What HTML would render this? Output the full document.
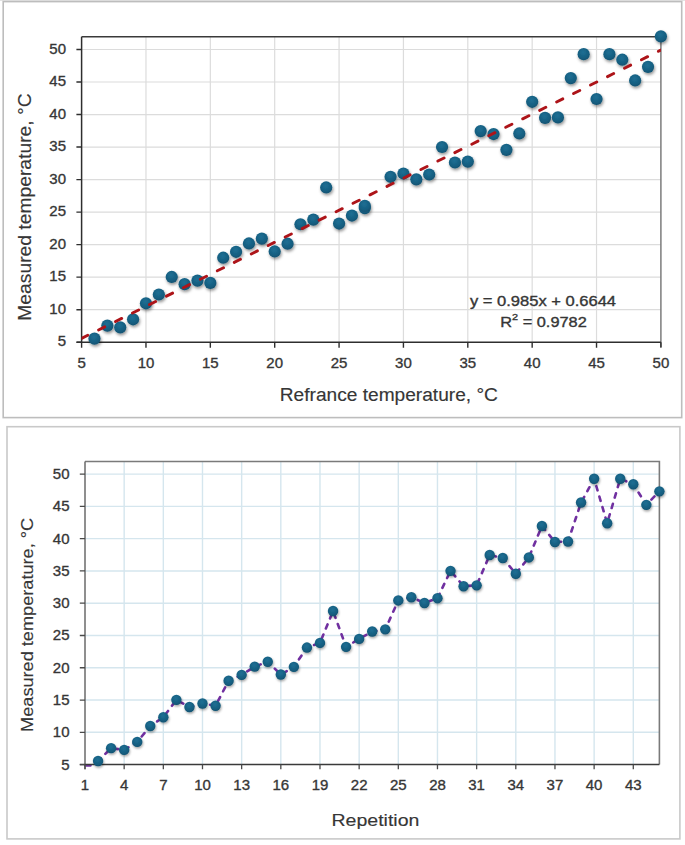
<!DOCTYPE html>
<html><head><meta charset="utf-8"><title>Charts</title>
<style>
html,body{margin:0;padding:0;background:#fff;}
body{width:685px;height:845px;overflow:hidden;position:relative;}
svg{position:absolute;left:0;top:0;display:block;}
text{font-family:"Liberation Sans", sans-serif;fill:#363636;stroke:#363636;stroke-width:0.35px;}
.tl{font-size:15px;}
.at1{font-size:17.9px;stroke-width:0.15px;}
.at2{font-size:17.3px;stroke-width:0.15px;}
.eq{font-size:14.2px;}
.sup{font-size:9.5px;}
</style></head>
<body>
<svg width="685" height="845" viewBox="0 0 685 845">
<defs>
<radialGradient id="mk" cx="0.45" cy="0.35" r="0.7">
<stop offset="0" stop-color="#1f6f94"/>
<stop offset="0.65" stop-color="#155e80"/>
<stop offset="1" stop-color="#0f4f6d"/>
</radialGradient>
<filter id="sh" x="-50%" y="-50%" width="200%" height="200%">
<feDropShadow dx="0.9" dy="1.9" stdDeviation="1.4" flood-color="#000" flood-opacity="0.42"/>
</filter>
<filter id="sh2" x="-50%" y="-50%" width="200%" height="200%">
<feDropShadow dx="0.7" dy="1.5" stdDeviation="1.1" flood-color="#000" flood-opacity="0.36"/>
</filter>
</defs>
<rect x="0" y="0" width="685" height="1" fill="#e4e4e4"/>
<rect x="3.2" y="1.6" width="678.5" height="416" fill="#fff" stroke="#bdbdbd" stroke-width="1.6"/>
<rect x="7.0" y="426.7" width="672.9" height="412.2" fill="#fff" stroke="#c9c9c9" stroke-width="1.6"/>
<path d="M81.6 309.68H660.9M81.6 277.16H660.9M81.6 244.63H660.9M81.6 212.11H660.9M81.6 179.59H660.9M81.6 147.07H660.9M81.6 114.54H660.9M81.6 82.02H660.9M81.6 49.5H660.9M145.97 36.7V342.2M210.33 36.7V342.2M274.7 36.7V342.2M339.07 36.7V342.2M403.43 36.7V342.2M467.8 36.7V342.2M532.17 36.7V342.2M596.53 36.7V342.2" stroke="#dcdcdc" stroke-width="1.2" fill="none"/>
<path d="M81.6 36.7H660.9" stroke="#3a3a3a" stroke-width="1.5" fill="none"/>
<path d="M660.9 36.7V347" stroke="#7c7c7c" stroke-width="1.5" fill="none"/>
<path d="M81.6 36.7V342.2" stroke="#2e2e2e" stroke-width="1.5" fill="none"/>
<path d="M76.6 342.2H660.9" stroke="#2e2e2e" stroke-width="1.6" fill="none"/>
<path d="M81.6 342.2V347.8M145.97 342.2V347.8M210.33 342.2V347.8M274.7 342.2V347.8M339.07 342.2V347.8M403.43 342.2V347.8M467.8 342.2V347.8M532.17 342.2V347.8M596.53 342.2V347.8M660.9 342.2V347.8M76.4 342.2H81.6M76.4 309.68H81.6M76.4 277.16H81.6M76.4 244.63H81.6M76.4 212.11H81.6M76.4 179.59H81.6M76.4 147.07H81.6M76.4 114.54H81.6M76.4 82.02H81.6M76.4 49.5H81.6" stroke="#2e2e2e" stroke-width="1.4" fill="none"/>
<g fill="url(#mk)" filter="url(#sh)"><circle cx="94.47" cy="338.62" r="6.1"/><circle cx="107.35" cy="325.61" r="6.1"/><circle cx="120.22" cy="327.37" r="6.1"/><circle cx="133.09" cy="319.3" r="6.1"/><circle cx="145.97" cy="303.3" r="6.1"/><circle cx="158.84" cy="294.52" r="6.1"/><circle cx="171.71" cy="276.96" r="6.1"/><circle cx="184.59" cy="284.18" r="6.1"/><circle cx="197.46" cy="280.6" r="6.1"/><circle cx="210.33" cy="282.88" r="6.1"/><circle cx="223.21" cy="257.71" r="6.1"/><circle cx="236.08" cy="251.79" r="6.1"/><circle cx="248.95" cy="243.46" r="6.1"/><circle cx="261.83" cy="238.58" r="6.1"/><circle cx="274.7" cy="251.46" r="6.1"/><circle cx="287.57" cy="243.72" r="6.1"/><circle cx="300.45" cy="224.27" r="6.1"/><circle cx="313.32" cy="219.59" r="6.1"/><circle cx="326.19" cy="187.46" r="6.1"/><circle cx="339.07" cy="223.56" r="6.1"/><circle cx="351.94" cy="215.56" r="6.1"/><circle cx="364.81" cy="208.08" r="6.1"/><circle cx="364.81" cy="205.93" r="6.1"/><circle cx="390.56" cy="176.79" r="6.1"/><circle cx="403.43" cy="173.54" r="6.1"/><circle cx="416.31" cy="179.33" r="6.1"/><circle cx="429.18" cy="174.52" r="6.1"/><circle cx="442.05" cy="147" r="6.1"/><circle cx="454.93" cy="162.48" r="6.1"/><circle cx="467.8" cy="161.57" r="6.1"/><circle cx="480.67" cy="131.07" r="6.1"/><circle cx="493.55" cy="134.06" r="6.1"/><circle cx="506.42" cy="149.86" r="6.1"/><circle cx="519.29" cy="133.47" r="6.1"/><circle cx="532.17" cy="101.8" r="6.1"/><circle cx="545.04" cy="117.86" r="6.1"/><circle cx="557.91" cy="117.41" r="6.1"/><circle cx="570.79" cy="78.12" r="6.1"/><circle cx="583.66" cy="54.18" r="6.1"/><circle cx="596.53" cy="99" r="6.1"/><circle cx="609.41" cy="54.18" r="6.1"/><circle cx="622.28" cy="59.71" r="6.1"/><circle cx="635.15" cy="80.46" r="6.1"/><circle cx="648.03" cy="66.87" r="6.1"/><circle cx="660.9" cy="36.36" r="6.1"/></g>
<clipPath id="cp1"><rect x="81.6" y="35.7" width="579.3" height="306.5"/></clipPath>
<g clip-path="url(#cp1)"><path d="M81.6 338.37L660.9 50.06" stroke="#ad1419" stroke-width="2.9" stroke-linecap="round" stroke-dasharray="6.9 12.05" fill="none"/></g>
<text x="66" y="346.4" text-anchor="end" class="tl">5</text>
<text x="66" y="313.88" text-anchor="end" class="tl">10</text>
<text x="66" y="281.36" text-anchor="end" class="tl">15</text>
<text x="66" y="248.83" text-anchor="end" class="tl">20</text>
<text x="66" y="216.31" text-anchor="end" class="tl">25</text>
<text x="66" y="183.79" text-anchor="end" class="tl">30</text>
<text x="66" y="151.27" text-anchor="end" class="tl">35</text>
<text x="66" y="118.74" text-anchor="end" class="tl">40</text>
<text x="66" y="86.22" text-anchor="end" class="tl">45</text>
<text x="66" y="53.7" text-anchor="end" class="tl">50</text>
<text x="81.6" y="367.7" text-anchor="middle" class="tl">5</text>
<text x="145.97" y="367.7" text-anchor="middle" class="tl">10</text>
<text x="210.33" y="367.7" text-anchor="middle" class="tl">15</text>
<text x="274.7" y="367.7" text-anchor="middle" class="tl">20</text>
<text x="339.07" y="367.7" text-anchor="middle" class="tl">25</text>
<text x="403.43" y="367.7" text-anchor="middle" class="tl">30</text>
<text x="467.8" y="367.7" text-anchor="middle" class="tl">35</text>
<text x="532.17" y="367.7" text-anchor="middle" class="tl">40</text>
<text x="596.53" y="367.7" text-anchor="middle" class="tl">45</text>
<text x="660.9" y="367.7" text-anchor="middle" class="tl">50</text>
<text transform="translate(388.85 400.6) scale(1.069 1)" text-anchor="middle" class="at1">Refrance temperature, &#176;C</text>
<text transform="translate(30.7 207.05) rotate(-90) scale(1.077 1)" text-anchor="middle" class="at1">Measured temperature, &#176;C</text>
<text transform="translate(469.9 305.6) scale(1.165 1)" class="eq">y = 0.985x + 0.6644</text>
<text transform="translate(500.3 327.2) scale(1.15 1)" class="eq">R<tspan dy="-7.6" class="sup">2</tspan><tspan dy="7.6"> = 0.9782</tspan></text>
<path d="M85 732.32H659.4M85 700.04H659.4M85 667.77H659.4M85 635.49H659.4M85 603.21H659.4M85 570.93H659.4M85 538.66H659.4M85 506.38H659.4M85 474.1H659.4M124.16 461.5V764.6M163.33 461.5V764.6M202.49 461.5V764.6M241.65 461.5V764.6M280.82 461.5V764.6M319.98 461.5V764.6M359.15 461.5V764.6M398.31 461.5V764.6M437.47 461.5V764.6M476.64 461.5V764.6M515.8 461.5V764.6M554.96 461.5V764.6M594.13 461.5V764.6M633.29 461.5V764.6" stroke="#d5e6ee" stroke-width="1.4" fill="none"/>
<path d="M85.4 765.5H90.5" stroke="#7030a0" stroke-width="2.4" stroke-linecap="round" fill="none"/>
<path d="M98.05 761.05L111.11 748.14L124.16 749.88L137.22 741.88L150.27 726L163.33 717.28L176.38 699.85L189.44 707.02L202.49 703.47L215.55 705.73L228.6 680.74L241.65 674.87L254.71 666.6L267.76 661.76L280.82 674.55L293.87 666.86L306.93 647.56L319.98 642.91L333.04 611.02L346.09 646.85L359.15 638.91L372.2 631.49L385.25 629.36L398.31 600.44L411.36 597.21L424.42 602.95L437.47 598.18L450.53 570.87L463.58 586.23L476.64 585.33L489.69 555.05L502.75 558.02L515.8 573.71L528.85 557.44L541.91 526L554.96 541.95L568.02 541.5L581.07 502.5L594.13 478.75L607.18 523.23L620.24 478.75L633.29 484.24L646.35 504.83L659.4 491.34" stroke="#7030a0" stroke-width="2.6" stroke-linecap="round" stroke-dasharray="4.4 6.5" stroke-dashoffset="11.53" fill="none" stroke-linejoin="round"/>
<path d="M85 461.5H659.4V764.6" stroke="#7a7a7a" stroke-width="1.6" fill="none"/>
<path d="M85 461.5V769.2" stroke="#6a6a6a" stroke-width="1.5" fill="none"/>
<path d="M79.8 764.6H659.4" stroke="#3a3a3a" stroke-width="1.5" fill="none"/>
<path d="M85 764.6V769.2M124.16 764.6V769.2M163.33 764.6V769.2M202.49 764.6V769.2M241.65 764.6V769.2M280.82 764.6V769.2M319.98 764.6V769.2M359.15 764.6V769.2M398.31 764.6V769.2M437.47 764.6V769.2M476.64 764.6V769.2M515.8 764.6V769.2M554.96 764.6V769.2M594.13 764.6V769.2M633.29 764.6V769.2M79.8 764.6H85M79.8 732.32H85M79.8 700.04H85M79.8 667.77H85M79.8 635.49H85M79.8 603.21H85M79.8 570.93H85M79.8 538.66H85M79.8 506.38H85M79.8 474.1H85" stroke="#4a4a4a" stroke-width="1.3" fill="none"/>
<g fill="url(#mk)" filter="url(#sh2)"><circle cx="98.05" cy="761.05" r="5.2"/><circle cx="111.11" cy="748.14" r="5.2"/><circle cx="124.16" cy="749.88" r="5.2"/><circle cx="137.22" cy="741.88" r="5.2"/><circle cx="150.27" cy="726" r="5.2"/><circle cx="163.33" cy="717.28" r="5.2"/><circle cx="176.38" cy="699.85" r="5.2"/><circle cx="189.44" cy="707.02" r="5.2"/><circle cx="202.49" cy="703.47" r="5.2"/><circle cx="215.55" cy="705.73" r="5.2"/><circle cx="228.6" cy="680.74" r="5.2"/><circle cx="241.65" cy="674.87" r="5.2"/><circle cx="254.71" cy="666.6" r="5.2"/><circle cx="267.76" cy="661.76" r="5.2"/><circle cx="280.82" cy="674.55" r="5.2"/><circle cx="293.87" cy="666.86" r="5.2"/><circle cx="306.93" cy="647.56" r="5.2"/><circle cx="319.98" cy="642.91" r="5.2"/><circle cx="333.04" cy="611.02" r="5.2"/><circle cx="346.09" cy="646.85" r="5.2"/><circle cx="359.15" cy="638.91" r="5.2"/><circle cx="372.2" cy="631.49" r="5.2"/><circle cx="385.25" cy="629.36" r="5.2"/><circle cx="398.31" cy="600.44" r="5.2"/><circle cx="411.36" cy="597.21" r="5.2"/><circle cx="424.42" cy="602.95" r="5.2"/><circle cx="437.47" cy="598.18" r="5.2"/><circle cx="450.53" cy="570.87" r="5.2"/><circle cx="463.58" cy="586.23" r="5.2"/><circle cx="476.64" cy="585.33" r="5.2"/><circle cx="489.69" cy="555.05" r="5.2"/><circle cx="502.75" cy="558.02" r="5.2"/><circle cx="515.8" cy="573.71" r="5.2"/><circle cx="528.85" cy="557.44" r="5.2"/><circle cx="541.91" cy="526" r="5.2"/><circle cx="554.96" cy="541.95" r="5.2"/><circle cx="568.02" cy="541.5" r="5.2"/><circle cx="581.07" cy="502.5" r="5.2"/><circle cx="594.13" cy="478.75" r="5.2"/><circle cx="607.18" cy="523.23" r="5.2"/><circle cx="620.24" cy="478.75" r="5.2"/><circle cx="633.29" cy="484.24" r="5.2"/><circle cx="646.35" cy="504.83" r="5.2"/><circle cx="659.4" cy="491.34" r="5.2"/></g>
<text x="69.5" y="769.5" text-anchor="end" class="tl">5</text>
<text x="69.5" y="737.22" text-anchor="end" class="tl">10</text>
<text x="69.5" y="704.94" text-anchor="end" class="tl">15</text>
<text x="69.5" y="672.67" text-anchor="end" class="tl">20</text>
<text x="69.5" y="640.39" text-anchor="end" class="tl">25</text>
<text x="69.5" y="608.11" text-anchor="end" class="tl">30</text>
<text x="69.5" y="575.83" text-anchor="end" class="tl">35</text>
<text x="69.5" y="543.56" text-anchor="end" class="tl">40</text>
<text x="69.5" y="511.28" text-anchor="end" class="tl">45</text>
<text x="69.5" y="479" text-anchor="end" class="tl">50</text>
<text x="85" y="789.6" text-anchor="middle" class="tl">1</text>
<text x="124.16" y="789.6" text-anchor="middle" class="tl">4</text>
<text x="163.33" y="789.6" text-anchor="middle" class="tl">7</text>
<text x="202.49" y="789.6" text-anchor="middle" class="tl">10</text>
<text x="241.65" y="789.6" text-anchor="middle" class="tl">13</text>
<text x="280.82" y="789.6" text-anchor="middle" class="tl">16</text>
<text x="319.98" y="789.6" text-anchor="middle" class="tl">19</text>
<text x="359.15" y="789.6" text-anchor="middle" class="tl">22</text>
<text x="398.31" y="789.6" text-anchor="middle" class="tl">25</text>
<text x="437.47" y="789.6" text-anchor="middle" class="tl">28</text>
<text x="476.64" y="789.6" text-anchor="middle" class="tl">31</text>
<text x="515.8" y="789.6" text-anchor="middle" class="tl">34</text>
<text x="554.96" y="789.6" text-anchor="middle" class="tl">37</text>
<text x="594.13" y="789.6" text-anchor="middle" class="tl">40</text>
<text x="633.29" y="789.6" text-anchor="middle" class="tl">43</text>
<text transform="translate(375.45 826.2) scale(1.13 1)" text-anchor="middle" class="at2">Repetition</text>
<text transform="translate(33.2 624.9) rotate(-90) scale(1.05 1)" text-anchor="middle" class="at2">Measured temperature, &#176;C</text>
</svg>
</body></html>
